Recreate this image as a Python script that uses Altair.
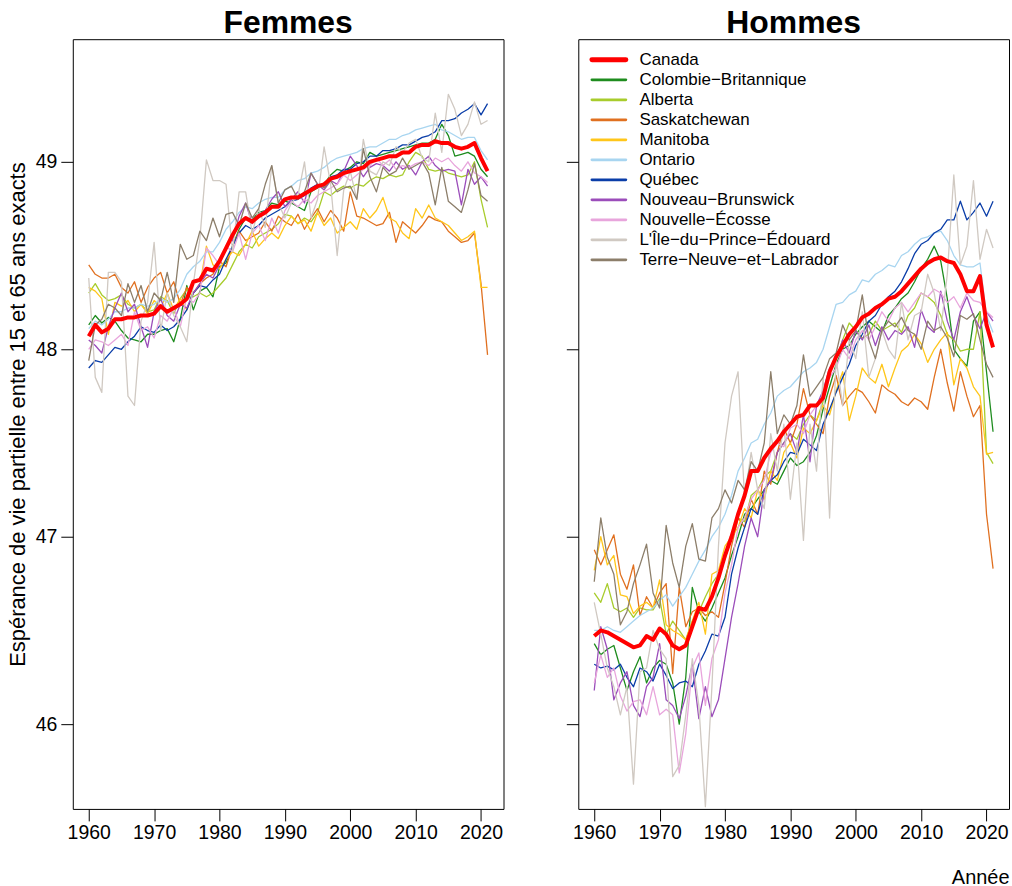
import altair as alt
import pandas as pd

# Années couvertes
annees = list(range(1960, 2022))

regions = [
    "Canada", "Colombie−Britannique", "Alberta", "Saskatchewan", "Manitoba",
    "Ontario", "Québec", "Nouveau−Brunswick", "Nouvelle−Écosse",
    "L'Île−du−Prince−Édouard", "Terre−Neuve−et−Labrador",
]
couleurs = [
    "#FF0000", "#1E8C1E", "#A8CC2C", "#E07020", "#FFC61A",
    "#A8D5F0", "#0A3DA8", "#9B4DBA", "#E8A5DC", "#D0C9C2", "#8C7E6A",
]

# ---- Femmes : espérance de vie partielle entre 15 et 65 ans ----
canada_f = [48.07, 48.13, 48.09, 48.11, 48.16, 48.16, 48.17, 48.17, 48.18, 48.18,
            48.19, 48.23, 48.20, 48.22, 48.24, 48.27, 48.36, 48.37, 48.43, 48.42,
            48.47, 48.54, 48.61, 48.67, 48.70, 48.68, 48.71, 48.73, 48.76, 48.76,
            48.80, 48.81, 48.81, 48.83, 48.85, 48.87, 48.88, 48.91, 48.92, 48.94,
            48.95, 48.96, 48.97, 49.00, 49.01, 49.02, 49.03, 49.03, 49.05, 49.05,
            49.08, 49.09, 49.09, 49.11, 49.10, 49.10, 49.08, 49.07, 49.08, 49.10,
            49.02, 48.95]
cb_f = [48.13, 48.18, 48.14, 48.17, 48.15, 48.10, 48.06, 48.05, 48.04, 48.08,
        48.08, 48.10, 48.11, 48.04, 48.16, 48.34, 48.21, 48.31, 48.33, 48.28,
        48.44, 48.46, 48.55, 48.64, 48.70, 48.69, 48.73, 48.74, 48.78, 48.77,
        48.79, 48.78, 48.76, 48.74, 48.84, 48.86, 48.88, 48.93, 48.96, 48.95,
        48.97, 49.00, 48.99, 49.05, 49.03, 49.04, 49.05, 49.06, 49.07, 49.08,
        49.09, 49.10, 49.10, 49.12, 49.20, 49.14, 49.03, 49.04, 49.05, 49.03,
        48.96, 48.92]
ab_f = [48.30, 48.35, 48.29, 48.26, 48.27, 48.29, 48.24, 48.22, 48.24, 48.20,
        48.21, 48.28, 48.26, 48.19, 48.27, 48.32, 48.28, 48.30, 48.28, 48.30,
        48.34, 48.38, 48.45, 48.52, 48.56, 48.54, 48.60, 48.62, 48.64, 48.67,
        48.72, 48.71, 48.67, 48.70, 48.68, 48.73, 48.84, 48.82, 48.85, 48.87,
        48.86, 48.88, 48.87, 48.90, 48.92, 48.91, 48.93, 48.92, 48.93, 49.00,
        49.05, 49.03, 48.96, 48.95, 48.96, 48.94, 48.93, 48.92, 48.93, 49.00,
        48.80, 48.65]
sk_f = [48.45, 48.40, 48.38, 48.38, 48.40, 48.33, 48.30, 48.36, 48.25, 48.33,
        48.38, 48.41, 48.30, 48.36, 48.24, 48.33, 48.30, 48.35, 48.38, 48.40,
        48.47, 48.44, 48.55, 48.63, 48.58, 48.60, 48.62, 48.68, 48.63, 48.71,
        48.68, 48.66, 48.72, 48.64, 48.70, 48.75, 48.68, 48.74, 48.70, 48.63,
        48.84, 48.71, 48.70, 48.68, 48.66, 48.67, 48.73, 48.57, 48.68, 48.65,
        48.62, 48.66, 48.71, 48.69, 48.68, 48.63, 48.60, 48.57, 48.58, 48.62,
        48.35, 47.97]
mb_f = [48.33, 48.31, 48.27, 48.08, 48.25, 48.23, 48.26, 48.20, 48.24, 48.19,
        48.26, 48.22, 48.30, 48.21, 48.27, 48.21, 48.30, 48.34, 48.55, 48.45,
        48.43, 48.48, 48.52, 48.50, 48.56, 48.63, 48.55, 48.59, 48.62, 48.59,
        48.66, 48.71, 48.67, 48.69, 48.63, 48.73, 48.66, 48.70, 48.62, 48.65,
        48.68, 48.64, 48.75, 48.70, 48.74, 48.81, 48.70, 48.68, 48.62, 48.59,
        48.75, 48.70, 48.77, 48.70, 48.68, 48.66, 48.62, 48.58, 48.60, 48.63,
        48.33, 48.33]
on_f = [48.11, 48.15, 48.13, 48.16, 48.20, 48.20, 48.22, 48.22, 48.24, 48.23,
        48.24, 48.27, 48.25, 48.27, 48.32, 48.40, 48.44, 48.47, 48.52, 48.52,
        48.57, 48.64, 48.68, 48.73, 48.76, 48.75, 48.78, 48.80, 48.81, 48.81,
        48.85, 48.87, 48.90, 48.91, 48.94, 48.95, 48.97, 49.00, 49.02, 49.03,
        49.04, 49.05, 49.07, 49.08, 49.08, 49.10, 49.12, 49.12, 49.14, 49.15,
        49.17, 49.18, 49.19, 49.20, 49.17, 49.16, 49.14, 49.12, 49.13, 49.13,
        49.06, 49.01]
qc_f = [47.90, 47.94, 47.93, 47.97, 48.01, 48.00, 48.04, 48.07, 48.12, 48.10,
        48.09, 48.13, 48.10, 48.12, 48.16, 48.21, 48.30, 48.34, 48.33, 48.37,
        48.40, 48.48, 48.55, 48.62, 48.66, 48.64, 48.66, 48.70, 48.72, 48.74,
        48.76, 48.79, 48.80, 48.82, 48.86, 48.88, 48.87, 48.92, 48.93, 48.96,
        48.96, 48.99, 49.00, 49.03, 49.03, 49.06, 49.06, 49.07, 49.09, 49.09,
        49.11, 49.13, 49.14, 49.16, 49.22, 49.22, 49.23, 49.26, 49.28, 49.31,
        49.25, 49.31]
nb_f = [48.05, 48.02, 47.98, 48.12, 48.22, 48.30, 48.20, 48.24, 48.12, 48.01,
        48.20, 48.27, 48.18, 48.15, 48.24, 48.22, 48.30, 48.35, 48.40, 48.38,
        48.45, 48.55, 48.58, 48.71, 48.78, 48.67, 48.72, 48.74, 48.80, 48.84,
        48.76, 48.80, 48.84, 48.78, 48.94, 48.88, 48.85, 48.90, 48.88, 48.95,
        49.03, 48.98, 48.92, 48.97, 48.99, 48.98, 48.95, 49.00, 48.96, 48.98,
        48.93, 49.00, 49.03, 48.98, 48.95, 48.96, 48.95, 48.77, 48.96, 48.88,
        48.92, 48.87]
ns_f = [48.00, 48.05, 48.04, 48.02, 48.05, 48.08, 48.02, 48.20, 48.10, 48.12,
        48.06, 48.18, 48.15, 48.22, 48.12, 48.28, 48.25, 48.30, 48.54, 48.50,
        48.45, 48.55, 48.52, 48.62, 48.48, 48.62, 48.66, 48.58, 48.70, 48.62,
        48.74, 48.79, 48.76, 48.80, 48.78, 48.82, 48.84, 48.86, 48.88, 48.93,
        48.90, 48.93, 48.96, 48.98, 49.02, 48.98, 49.01, 48.96, 48.98, 48.97,
        48.99, 49.00, 48.98, 49.02, 49.00, 49.02, 48.98, 48.95, 49.00, 48.94,
        48.92, 48.89]
pe_f = [48.38, 47.85, 47.77, 48.41, 48.41, 48.36, 47.75, 47.70, 48.15, 48.25,
        48.57, 48.10, 48.30, 48.18, 48.12, 48.04, 48.35, 48.59, 49.01, 48.90,
        48.90, 48.88, 48.52, 48.84, 48.84, 48.62, 48.75, 48.65, 48.98, 48.78,
        48.70, 48.78, 48.82, 49.00, 48.70, 48.80, 49.08, 48.88, 48.50, 48.85,
        48.95, 48.80, 49.12, 48.95, 48.93, 49.00, 48.98, 49.08, 49.05, 49.10,
        49.12, 49.02, 49.00, 49.26, 49.05, 49.36, 49.28, 49.14, 49.20, 49.32,
        49.20, 49.22]
tn_f = [47.94, 48.13, 48.16, 48.24, 48.22, 48.18, 48.35, 48.25, 48.34, 48.20,
        48.30, 48.26, 48.41, 48.25, 48.56, 48.48, 48.50, 48.63, 48.58, 48.70,
        48.60, 48.72, 48.73, 48.66, 48.78, 48.70, 48.75, 48.88, 48.98, 48.78,
        48.85, 48.87, 48.80, 48.84, 48.94, 48.88, 48.86, 48.90, 48.84, 48.86,
        48.87, 48.80, 49.07, 48.92, 48.84, 48.97, 48.93, 48.95, 49.02, 48.96,
        48.98, 49.00, 48.94, 48.77, 48.97, 48.79, 48.76, 48.73, 48.85, 48.99,
        48.82, 48.79]

# ---- Hommes ----
canada_h = [46.47, 46.50, 46.49, 46.47, 46.45, 46.43, 46.41, 46.42, 46.47, 46.45,
            46.51, 46.48, 46.42, 46.40, 46.42, 46.52, 46.62, 46.61, 46.68, 46.78,
            46.90, 47.00, 47.12, 47.22, 47.35, 47.35, 47.42, 47.47, 47.51, 47.56,
            47.60, 47.64, 47.65, 47.70, 47.70, 47.74, 47.88, 47.96, 48.02, 48.08,
            48.12, 48.17, 48.19, 48.22, 48.24, 48.27, 48.28, 48.31, 48.35, 48.39,
            48.43, 48.46, 48.48, 48.49, 48.47, 48.46, 48.40, 48.31, 48.31, 48.39,
            48.13, 48.01]
cb_h = [46.43, 46.37, 46.40, 46.42, 46.30, 46.18, 46.28, 46.36, 46.22, 46.30,
        46.34, 46.32, 46.22, 46.00, 46.25, 46.73, 46.60, 46.55, 46.62, 46.70,
        46.78, 46.90, 47.00, 47.12, 47.15, 47.20, 47.25, 47.30, 47.28, 47.35,
        47.42, 47.38, 47.40, 47.45, 47.54, 47.68, 47.80, 47.92, 48.00, 48.02,
        48.08, 48.12, 48.15, 48.12, 48.09, 48.18, 48.22, 48.27, 48.30, 48.36,
        48.43, 48.48, 48.55, 48.47, 48.27, 48.00, 47.95, 47.91, 48.15, 48.20,
        47.88, 47.56]
ab_h = [46.70, 46.65, 46.75, 46.62, 46.60, 46.62, 46.57, 46.62, 46.61, 46.61,
        46.67, 46.48, 46.55, 46.50, 46.45, 46.55, 46.60, 46.68, 46.75, 46.80,
        46.88, 47.00, 47.10, 47.08, 47.22, 47.25, 47.32, 47.35, 47.45, 47.50,
        47.55, 47.52, 47.60, 47.65, 47.62, 47.72, 47.88, 47.95, 48.05, 48.14,
        48.10, 48.06, 48.08, 48.15, 48.10, 48.12, 48.14, 48.09, 48.18, 48.22,
        48.30, 48.28, 48.25, 48.18, 48.08, 48.05, 47.99, 48.00, 48.00, 48.20,
        47.45, 47.39]
sk_h = [46.93, 46.85, 46.93, 47.01, 46.80, 46.72, 46.85, 46.58, 46.68, 46.62,
        46.70, 46.75, 46.27, 46.73, 46.52, 46.60, 46.62, 46.58, 46.60, 46.57,
        46.75, 46.95, 47.10, 47.05, 47.20, 47.12, 47.35, 47.28, 47.45, 47.58,
        47.50, 47.60, 47.79, 47.65, 47.60, 47.55, 47.75, 47.86, 47.70, 47.75,
        47.79, 47.77, 47.72, 47.66, 47.81, 47.78, 47.76, 47.72, 47.70, 47.74,
        47.72, 47.68, 47.85, 48.00, 47.82, 47.67, 47.88, 47.75, 47.64, 47.70,
        47.12, 46.83]
mb_h = [46.82, 47.00, 46.85, 46.90, 46.69, 46.68, 46.59, 46.63, 46.65, 46.62,
        46.77, 46.53, 46.50, 46.48, 46.45, 46.55, 46.65, 46.48, 46.80, 46.82,
        46.95, 47.00, 47.05, 47.15, 47.10, 47.25, 47.20, 47.35, 47.30, 47.45,
        47.50, 47.42, 47.58, 47.55, 47.62, 47.70, 47.65, 47.78, 47.88, 47.62,
        47.75, 47.90, 47.85, 47.82, 47.92, 47.80, 47.90, 47.99, 48.02, 48.08,
        48.03, 47.93, 48.00, 48.05, 48.09, 47.81, 47.95, 47.90, 47.80, 47.75,
        47.44, 47.45]
on_h = [46.50, 46.50, 46.52, 46.50, 46.49, 46.52, 46.55, 46.58, 46.60, 46.62,
        46.66, 46.69, 46.63, 46.68, 46.73, 46.80, 46.87, 46.93, 47.00, 47.05,
        47.12, 47.22, 47.35, 47.42, 47.50, 47.52, 47.60, 47.66, 47.75, 47.78,
        47.80, 47.84, 47.88, 47.90, 47.93, 48.00, 48.12, 48.24, 48.25, 48.29,
        48.31, 48.37, 48.36, 48.40, 48.42, 48.45, 48.44, 48.50, 48.52, 48.56,
        48.59, 48.60, 48.62, 48.63, 48.58, 48.50, 48.45, 48.44, 48.44, 48.46,
        48.18, 48.09]
qc_h = [46.32, 46.30, 46.31, 46.29, 46.32, 46.25, 46.20, 46.30, 46.28, 46.23,
        46.32, 46.26, 46.19, 46.22, 46.23, 46.20, 46.32, 46.39, 46.48, 46.47,
        46.57, 46.80, 46.94, 47.05, 47.15, 47.12, 47.25, 47.30, 47.33, 47.40,
        47.45, 47.44, 47.52, 47.49, 47.46, 47.60, 47.68, 47.77, 47.85, 47.92,
        48.02, 48.08, 48.15, 48.18, 48.24, 48.28, 48.31, 48.36, 48.43, 48.51,
        48.56, 48.58, 48.62, 48.64, 48.69, 48.69, 48.79, 48.69, 48.73, 48.78,
        48.71, 48.79]
nb_h = [46.18, 46.52, 46.40, 46.13, 46.22, 46.28, 46.10, 46.04, 46.20, 46.25,
        46.43, 46.13, 46.10, 46.03, 46.15, 46.32, 46.03, 46.20, 46.04, 46.13,
        46.35, 46.57, 46.75, 46.95, 47.10, 47.00, 47.25, 47.30, 47.45, 47.50,
        47.55, 47.45, 47.65, 47.40, 47.70, 47.78, 47.90, 47.95, 48.05, 47.98,
        48.10, 48.05, 48.13, 48.02, 48.12, 48.05, 48.10, 48.08, 48.12, 48.01,
        48.21, 48.12, 48.09, 48.31, 48.15, 48.05, 48.20, 48.28, 48.18, 48.11,
        48.20, 48.15]
ns_h = [46.22, 46.37, 46.25, 46.30, 46.15, 46.07, 46.12, 46.13, 46.05, 46.20,
        46.05, 46.08, 46.05, 45.74, 45.95, 46.30, 46.38, 46.10, 46.35, 46.45,
        46.70, 46.85, 47.05, 47.10, 47.20, 47.25, 47.30, 47.45, 47.50, 47.48,
        47.58, 47.60, 47.55, 47.65, 47.70, 47.75, 47.85, 47.90, 48.00, 47.95,
        48.05, 48.10, 48.05, 48.12, 48.20, 48.15, 48.22, 48.25, 48.20, 48.25,
        48.30, 48.28, 48.32, 48.30, 48.25, 48.28, 48.22, 48.30, 48.26, 48.25,
        48.20, 48.17]
pe_h = [46.65, 46.48, 46.30, 46.20, 46.05, 46.20, 45.68, 46.28, 46.30, 46.50,
        46.40, 46.35, 45.72, 45.78, 46.05, 46.35, 46.10, 45.56, 46.20, 46.95,
        47.50, 47.75, 47.88, 47.20, 47.45, 47.25, 47.15, 47.55, 47.35, 47.60,
        47.20, 47.50, 46.98, 47.60, 47.35, 47.85, 47.10, 47.95, 47.70, 48.05,
        47.95, 48.20, 47.85, 47.95, 48.10, 48.00, 47.95, 48.25, 48.05, 48.18,
        48.20, 48.40, 48.30, 48.10, 48.40, 48.93, 48.45, 48.55, 48.90, 48.48,
        48.64, 48.54]
tn_h = [46.76, 47.10, 46.89, 46.80, 46.53, 46.60, 46.75, 46.85, 46.96, 46.70,
        46.62, 47.06, 46.86, 46.73, 46.95, 47.07, 46.88, 46.87, 47.10, 47.15,
        47.25, 47.18, 47.30, 47.25, 47.40, 47.35, 47.50, 47.88, 47.55, 47.65,
        47.60, 47.70, 47.97, 47.75, 47.80, 47.85, 47.95, 47.98, 48.13, 48.05,
        48.10, 48.29, 48.05, 47.95, 48.10, 48.15, 48.12, 48.17, 48.10, 48.08,
        48.00, 48.15, 48.10, 48.12, 48.06, 47.96, 48.18, 48.16, 48.19, 48.05,
        47.92, 47.85]

femmes = dict(zip(regions, [canada_f, cb_f, ab_f, sk_f, mb_f, on_f, qc_f,
                            nb_f, ns_f, pe_f, tn_f]))
hommes = dict(zip(regions, [canada_h, cb_h, ab_h, sk_h, mb_h, on_h, qc_h,
                            nb_h, ns_h, pe_h, tn_h]))


def en_long(series):
    lignes = []
    for region, valeurs in series.items():
        assert len(valeurs) == len(annees), region
        for a, v in zip(annees, valeurs):
            lignes.append({"annee": a, "region": region, "valeur": v})
    return pd.DataFrame(lignes)


POLICE = "Liberation Sans"
x_scale = alt.Scale(domain=[1957.56, 2023.44], nice=False, zero=False)
y_scale = alt.Scale(domain=[45.548, 49.654], nice=False, zero=False)
couleur = alt.Color("region:N", scale=alt.Scale(domain=regions, range=couleurs),
                    legend=None)


def panneau(series, titre, gauche):
    df = en_long(series)
    x_axis = alt.Axis(
        values=list(range(1960, 2021, 10)), format="d", tickSize=12,
        labelPadding=3, labelFontSize=19.5, labelFlush=False, domain=False,
        grid=False, title=None if gauche else "Année", titleAnchor="end",
        titleFontSize=20, titleFontWeight="normal", titlePadding=25,
    )
    if gauche:
        y_axis = alt.Axis(
            values=[46, 47, 48, 49], tickSize=12, labelPadding=4,
            labelFontSize=19.5, domain=False, grid=False,
            title="Espérance de vie partielle entre 15 et 65 ans exacts",
            titleFontSize=22, titleFontWeight="normal", titlePadding=6,
            titleY=376,
        )
    else:
        y_axis = alt.Axis(values=[46, 47, 48, 49], tickSize=12, labels=False,
                          domain=False, grid=False, title=None)

    base = alt.Chart(df).encode(
        x=alt.X("annee:Q", scale=x_scale, axis=x_axis),
        y=alt.Y("valeur:Q", scale=y_scale, axis=y_axis),
        color=couleur,
    )
    provinces = base.transform_filter(alt.datum.region != "Canada").mark_line(
        strokeWidth=1.3, strokeJoin="round", clip=True)
    canada = base.transform_filter(alt.datum.region == "Canada").mark_line(
        strokeWidth=4, strokeJoin="round", clip=True)
    couches = [provinces, canada]

    if not gauche:
        leg_df = pd.DataFrame({"region": regions, "rang": list(range(len(regions)))})
        leg = alt.Chart(leg_df).transform_calculate(ly="20.7 + 20.06 * datum.rang")
        leg_traits = leg.mark_rule(strokeCap="round").encode(
            x=alt.value(13.7), x2=alt.value(47.7),
            y=alt.Y("ly:Q", scale=None, axis=None),
            color=couleur,
            strokeWidth=alt.condition(alt.datum.region == "Canada",
                                      alt.value(5), alt.value(2.8)),
        )
        leg_textes = leg.mark_text(align="left", baseline="middle", fontSize=17,
                                   font=POLICE, color="black").encode(
            x=alt.value(61.3),
            y=alt.Y("ly:Q", scale=None, axis=None),
            text="region:N",
        )
        couches += [leg_traits, leg_textes]

    return alt.layer(*couches).properties(
        width=432, height=772,
        title=alt.TitleParams(titre, fontSize=32, fontWeight="bold", font=POLICE,
                              frame="group", anchor="middle",
                              baseline="alphabetic", offset=-26, color="black"),
    )


chart = alt.hconcat(
    panneau(femmes, "Femmes", True),
    panneau(hommes, "Hommes", False),
    spacing=61,
).properties(
    padding={"left": 5, "top": 5, "right": 2, "bottom": 0},
).configure_view(
    stroke="black", strokeWidth=1,
).configure_axis(
    labelFont=POLICE, titleFont=POLICE, labelColor="black", titleColor="black",
    tickColor="black", tickWidth=1,
)

chart.save("out.html", embed_options={"renderer": "svg", "actions": False})
